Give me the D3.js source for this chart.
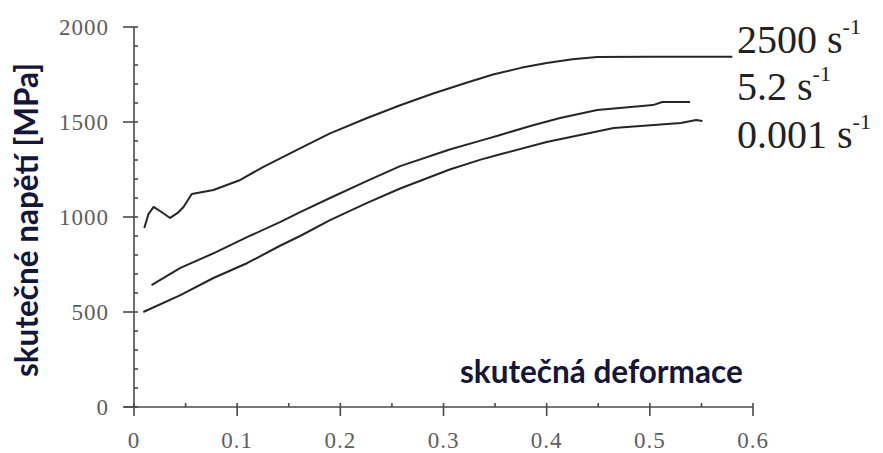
<!DOCTYPE html>
<html>
<head>
<meta charset="utf-8">
<script src="https://cdn.jsdelivr.net/npm/d3@7"></script>
<style>
  body { margin: 0; background: #fff; }
  svg { display: block; }
  .tick-label { font-family: "Liberation Serif", serif; font-size: 23px; fill: #5e5e5e; letter-spacing: 1px; }
  .title { font-family: Lato, "Open Sans", sans-serif; font-weight: bold; font-size: 31.5px; fill: #16163a; }
  .series-label { font-family: "Liberation Serif", serif; font-size: 40px; fill: #222; }
  .curve { fill: none; stroke: #262626; stroke-width: 2; stroke-linejoin: round; }
  .axis-line { stroke: #4a4a4a; stroke-width: 1.6; }
</style>
</head>
<body>
<svg id="chart" width="883" height="453"></svg>
<script>
// true strain vs true stress [MPa]
const strain2500 = [0.010, 0.014, 0.019, 0.027, 0.035, 0.042, 0.048, 0.056, 0.077, 0.103, 0.125, 0.158, 0.190, 0.226, 0.258, 0.290, 0.323, 0.348, 0.375, 0.400, 0.425, 0.449, 0.500, 0.580];
const stress2500 = [942, 1015, 1053, 1025, 995, 1020, 1053, 1121, 1142, 1195, 1263, 1353, 1440, 1521, 1588, 1650, 1708, 1750, 1785, 1811, 1830, 1842, 1843, 1843];

const strain52 = [0.017, 0.045, 0.080, 0.110, 0.142, 0.161, 0.190, 0.226, 0.258, 0.306, 0.336, 0.355, 0.385, 0.413, 0.449, 0.503, 0.512, 0.539];
const stress52 = [642, 732, 816, 895, 974, 1026, 1100, 1190, 1268, 1355, 1402, 1432, 1480, 1521, 1563, 1589, 1605, 1605];

const strain0001 = [0.009, 0.045, 0.077, 0.110, 0.142, 0.161, 0.190, 0.226, 0.258, 0.306, 0.336, 0.355, 0.400, 0.465, 0.530, 0.545, 0.551];
const stress0001 = [500, 589, 679, 758, 850, 900, 984, 1074, 1150, 1250, 1302, 1330, 1395, 1468, 1495, 1510, 1505];

const seriesNames = ["2500", "5.2", "0.001"];
const seriesUnit = "s";
const seriesExp = "-1";

const xTicks = [0, 0.1, 0.2, 0.3, 0.4, 0.5, 0.6];
const yTicks = [0, 500, 1000, 1500, 2000];
const xTitle = "skutečná deformace";
const yTitle = "skutečné napětí [MPa]";

const svg = d3.select("#chart");
const x = d3.scaleLinear().domain([0, 0.6]).range([134, 753]);
const y = d3.scaleLinear().domain([0, 2000]).range([407, 27]);

const xMinor = d3.range(0.05, 0.6, 0.1);
const yMinor = d3.range(0, 2001, 100).filter(v => v % 500 !== 0);

const axes = svg.append("g");
// axis lines
axes.append("line").attr("class", "axis-line")
  .attr("x1", x(0)).attr("x2", x(0)).attr("y1", y(2000)).attr("y2", y(0) + 1);
axes.append("line").attr("class", "axis-line")
  .attr("x1", x(0) - 10).attr("x2", x(0.6)).attr("y1", y(0)).attr("y2", y(0));

// y ticks
axes.selectAll(".ymaj").data(yTicks).join("line").attr("class", "axis-line")
  .attr("x1", x(0) - 11).attr("x2", x(0) + 4).attr("y1", d => y(d)).attr("y2", d => y(d));
axes.selectAll(".ymin").data(yMinor).join("line").attr("class", "axis-line")
  .attr("x1", x(0)).attr("x2", x(0) + 4).attr("y1", d => y(d)).attr("y2", d => y(d));
axes.selectAll(".ylab").data(yTicks).join("text").attr("class", "tick-label")
  .attr("x", x(0) - 25).attr("y", d => y(d)).attr("dy", "0.33em")
  .attr("text-anchor", "end").text(d => d);

// x ticks
axes.selectAll(".xmaj").data(xTicks).join("line").attr("class", "axis-line")
  .attr("x1", d => x(d)).attr("x2", d => x(d)).attr("y1", y(0) - 4).attr("y2", y(0) + 9);
axes.selectAll(".xmin").data(xMinor).join("line").attr("class", "axis-line")
  .attr("x1", d => x(d)).attr("x2", d => x(d)).attr("y1", y(0) - 4).attr("y2", y(0));
axes.selectAll(".xlab").data(xTicks).join("text").attr("class", "tick-label")
  .attr("x", d => x(d)).attr("y", 448).attr("text-anchor", "middle").text(d => d);

// curves
const line = d3.line().x(d => x(d[0])).y(d => y(d[1]));
const curves = [
  d3.zip(strain2500, stress2500),
  d3.zip(strain52, stress52),
  d3.zip(strain0001, stress0001)
];
svg.selectAll(".curve").data(curves).join("path")
  .attr("class", "curve").attr("d", line);

// series labels
const labelY = [53, 100, 148];
const labels = svg.selectAll(".series-label").data(seriesNames).join("text")
  .attr("class", "series-label").attr("x", 737).attr("y", (d, i) => labelY[i]);
labels.append("tspan").text(d => d + " " + seriesUnit);
labels.append("tspan").attr("font-size", 22).attr("dy", -19).text(seriesExp);

// titles
svg.append("text").attr("class", "title")
  .attr("x", 460).attr("y", 383).text(xTitle);
svg.append("text").attr("class", "title")
  .attr("transform", "translate(38,220) rotate(-90)")
  .attr("text-anchor", "middle").text(yTitle);
</script>
</body>
</html>
